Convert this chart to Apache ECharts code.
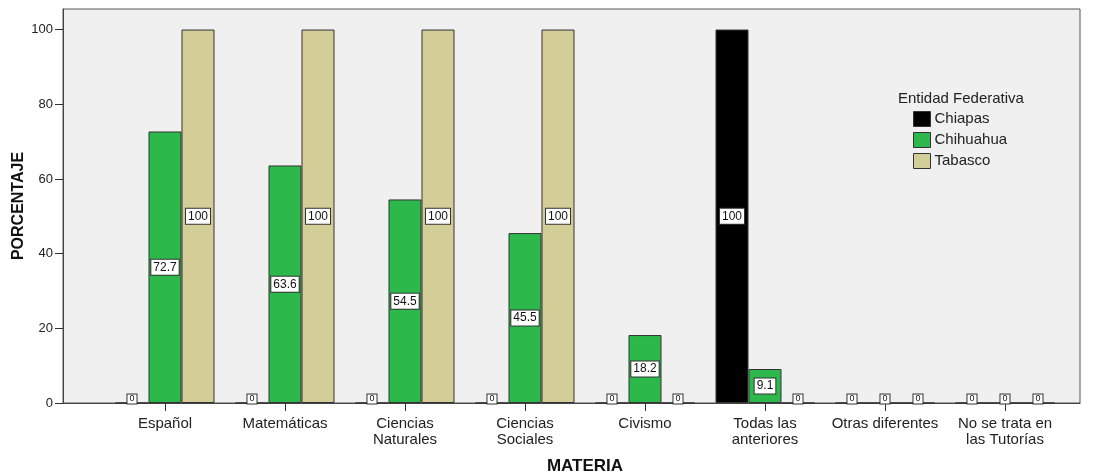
<!DOCTYPE html>
<html>
<head>
<meta charset="utf-8">
<script src="https://cdn.jsdelivr.net/npm/echarts@6/dist/echarts.min.js"></script>
<style>html,body{margin:0;padding:0;background:#fff}#c{width:1095px;height:472px}</style>
</head>
<body>
<div id="c"></div>
<script>
const categories = ['Español','Matemáticas','Ciencias\nNaturales','Ciencias\nSociales','Civismo','Todas las\nanteriores','Otras diferentes','No se trata en\nlas Tutorías'];
const seriesNames = ['Chiapas','Chihuahua','Tabasco'];
const chiapas   = [0, 0, 0, 0, 0, 100, 0, 0];
const chihuahua = [72.7, 63.6, 54.5, 45.5, 18.2, 9.1, 0, 0];
const tabasco   = [100, 100, 100, 100, 0, 0, 0, 0];
const yTicks = [0, 20, 40, 60, 80, 100];
const colors = ['#000000', '#2db84b', '#d3ce98'];

const FONT = '"Liberation Sans", Arial, sans-serif';
const labelBase = {
  show: true,
  backgroundColor: '#fff',
  borderColor: '#333',
  borderWidth: 1,
  color: '#111',
  fontFamily: FONT,
  fontSize: 12,
  padding: [2, 2, 1, 2]
};
function mkData(vals) {
  return vals.map(v => v === 0
    ? { value: v, label: Object.assign({}, labelBase, { position: 'insideBottom', distance: 0, fontSize: 9, padding: [0, 2, 0, 2], formatter: '0' }) }
    : { value: v, label: Object.assign({}, labelBase, { position: 'inside', formatter: String(v) }) });
}
const allVals = [chiapas, chihuahua, tabasco];
const chart = echarts.init(document.getElementById('c'));
chart.setOption({
  animation: false,
  backgroundColor: '#fff',
  textStyle: { fontFamily: FONT },
  title: {
    text: 'Entidad Federativa',
    left: 898, top: 91, padding: 0,
    textStyle: { fontSize: 15, fontWeight: 'normal', color: '#222', fontFamily: FONT }
  },
  legend: {
    orient: 'vertical',
    left: 913, top: 111, padding: 0,
    icon: 'rect',
    itemWidth: 17, itemHeight: 15, itemGap: 5,
    data: seriesNames,
    textStyle: { fontSize: 15, color: '#222', fontFamily: FONT, padding: [0,0,0,-1] },
    itemStyle: { borderColor: '#333', borderWidth: 1 }
  },
  grid: [
    { left: 63, right: 15, top: 9, bottom: 69, outerBoundsMode: 'none', containLabel: false, show: true, backgroundColor: '#f0f0f0', borderColor: '#555', borderWidth: 1 },
    { left: 105, right: 30, top: 9, bottom: 69, outerBoundsMode: 'none', containLabel: false }
  ],
  xAxis: [
    { gridIndex: 0, type: 'value', min: 0, max: 1, show: true, axisLine: { show: true, lineStyle: { color: '#444' } }, axisTick: { show: false }, axisLabel: { show: false }, splitLine: { show: false } },
    { gridIndex: 1, type: 'category', data: categories,
      axisLine: { show: false },
      axisTick: { show: true, alignWithLabel: true, length: 8, lineStyle: { color: '#333' } },
      axisLabel: { color: '#222', fontSize: 15, lineHeight: 16, margin: 13, fontFamily: FONT, interval: 0 },
      name: 'MATERIA', nameLocation: 'middle', nameGap: 55, nameMoveOverlap: false,
      nameTextStyle: { fontSize: 17, fontWeight: 'bold', color: '#111', fontFamily: FONT }
    }
  ],
  yAxis: [
    { gridIndex: 0, type: 'value', min: 0, max: 105.5, interval: 20,
      axisLine: { show: true, lineStyle: { color: '#444' } },
      axisTick: { show: true, length: 8, customValues: yTicks, lineStyle: { color: '#333' } },
      axisLabel: { color: '#222', fontSize: 13, margin: 10, customValues: yTicks, fontFamily: FONT },
      splitLine: { show: false },
      name: 'PORCENTAJE', nameLocation: 'middle', nameGap: 36, nameMoveOverlap: false,
      nameTextStyle: { fontSize: 16, fontWeight: 'bold', color: '#111', fontFamily: FONT }
    },
    { gridIndex: 1, type: 'value', min: 0, max: 105.5, show: false }
  ],
  series: seriesNames.map((n, i) => ({
    name: n,
    type: 'bar',
    xAxisIndex: 1, yAxisIndex: 1,
    barWidth: 33,
    barGap: '0%',
    itemStyle: { color: colors[i], borderColor: '#333', borderWidth: 1 },
    data: mkData(allVals[i])
  }))
});
</script>
</body>
</html>
